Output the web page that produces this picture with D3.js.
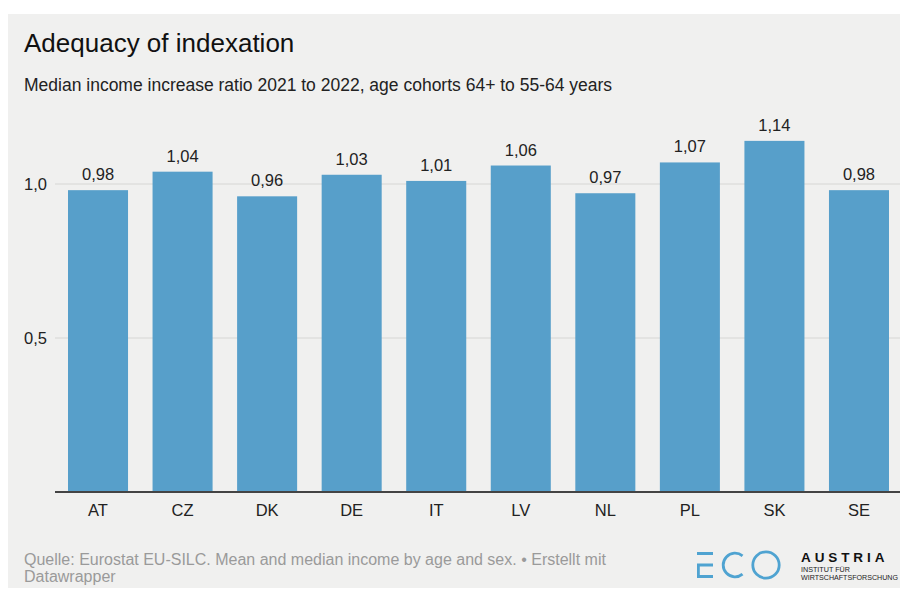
<!DOCTYPE html>
<html>
<head>
<meta charset="utf-8">
<script src="https://cdn.jsdelivr.net/npm/d3@7"></script>
<style>
  html, body { margin: 0; padding: 0; background: #ffffff; }
  svg { display: block; font-family: "Liberation Sans", Arial, Helvetica, sans-serif; }
</style>
</head>
<body>
<svg id="chart" width="900" height="590"></svg>
<script>
// Median income increase ratio 2021→2022, cohort 64+ vs 55-64
const countries = ["AT", "CZ", "DK", "DE", "IT", "LV", "NL", "PL", "SK", "SE"];
const ratios = [0.98, 1.04, 0.96, 1.03, 1.01, 1.06, 0.97, 1.07, 1.14, 0.98];
const yTicks = [0.5, 1.0];

const title = "Adequacy of indexation";
const subtitle = "Median income increase ratio 2021 to 2022, age cohorts 64+ to 55-64 years";
const sourceLines = [
  "Quelle: Eurostat EU-SILC. Mean and median income by age and sex. • Erstellt mit",
  "Datawrapper"
];

const fmt = (v, d) => v.toFixed(d).replace(".", ",");

const svg = d3.select("#chart");

// panel background
svg.append("rect")
  .attr("x", 8).attr("y", 14)
  .attr("width", 892).attr("height", 574)
  .attr("fill", "#f0f0ef");

// header
svg.append("text")
  .attr("x", 24).attr("y", 52)
  .attr("font-size", 26)
  .attr("fill", "#111")
  .text(title);

svg.append("text")
  .attr("x", 24).attr("y", 91)
  .attr("font-size", 17.5)
  .attr("fill", "#222")
  .text(subtitle);

// plot area
const plotLeft = 55, plotRight = 900;
const y = d3.scaleLinear().domain([0, 1]).range([492, 184]);
const x = d3.scaleBand()
  .domain(countries)
  .range([68, 889])
  .paddingInner(0.29)
  .paddingOuter(0);

// gridlines + y labels
const yAxis = svg.append("g");
yAxis.selectAll("line.grid")
  .data(yTicks)
  .join("line")
  .attr("class", "grid")
  .attr("x1", plotLeft).attr("x2", plotRight)
  .attr("y1", d => y(d)).attr("y2", d => y(d))
  .attr("stroke", "#d6d6d4")
  .attr("stroke-width", 1);

yAxis.selectAll("text")
  .data(yTicks)
  .join("text")
  .attr("x", 24)
  .attr("y", d => y(d))
  .attr("dy", "0.35em")
  .attr("font-size", 16.5)
  .attr("fill", "#222")
  .text(d => fmt(d, 1));

// bars
const data = countries.map((c, i) => ({ c, v: ratios[i] }));
svg.append("g").selectAll("rect")
  .data(data)
  .join("rect")
  .attr("x", d => x(d.c))
  .attr("width", x.bandwidth())
  .attr("y", d => y(d.v))
  .attr("height", d => y(0) - y(d.v))
  .attr("fill", "#579fca");

// value labels
svg.append("g").selectAll("text")
  .data(data)
  .join("text")
  .attr("x", d => x(d.c) + x.bandwidth() / 2)
  .attr("y", d => y(d.v) - 10)
  .attr("text-anchor", "middle")
  .attr("font-size", 16.5)
  .attr("fill", "#222")
  .text(d => fmt(d.v, 2));

// baseline
svg.append("line")
  .attr("x1", plotLeft).attr("x2", plotRight)
  .attr("y1", y(0)).attr("y2", y(0))
  .attr("stroke", "#444")
  .attr("stroke-width", 2);

// category labels
svg.append("g").selectAll("text")
  .data(countries)
  .join("text")
  .attr("x", d => x(d) + x.bandwidth() / 2)
  .attr("y", 516)
  .attr("text-anchor", "middle")
  .attr("font-size", 16.5)
  .attr("fill", "#222")
  .text(d => d);

// source note
svg.append("g").selectAll("text")
  .data(sourceLines)
  .join("text")
  .attr("x", 24)
  .attr("y", (d, i) => 565 + i * 17)
  .attr("font-size", 16)
  .attr("fill", "#9a9a9a")
  .text(d => d);

// ECO Austria logo
const logo = svg.append("g")
  .attr("fill", "none")
  .attr("stroke", "#4fa3d1")
  .attr("stroke-width", 2.8);
logo.append("path").attr("d", "M697,553.5 H713 M697,565 H713 M698.4,565 V576.5 M697,576.5 H713");
const cPath = d3.path();
cPath.arc(735, 565, 11.8, -Math.PI * 0.28, Math.PI * 0.28, true);
logo.append("path").attr("d", cPath.toString());
logo.append("circle").attr("cx", 766).attr("cy", 565).attr("r", 13.2);

svg.append("text")
  .attr("x", 801).attr("y", 562)
  .attr("font-size", 13.5)
  .attr("font-weight", "bold")
  .attr("letter-spacing", 3.9)
  .attr("fill", "#111")
  .text("AUSTRIA");
svg.append("text")
  .attr("x", 801).attr("y", 572)
  .attr("font-size", 7.2)
  .attr("fill", "#222")
  .text("INSTITUT FÜR");
svg.append("text")
  .attr("x", 801).attr("y", 579.5)
  .attr("font-size", 7.2)
  .attr("textLength", 97)
  .attr("lengthAdjust", "spacingAndGlyphs")
  .attr("fill", "#222")
  .text("WIRTSCHAFTSFORSCHUNG");
</script>
</body>
</html>
